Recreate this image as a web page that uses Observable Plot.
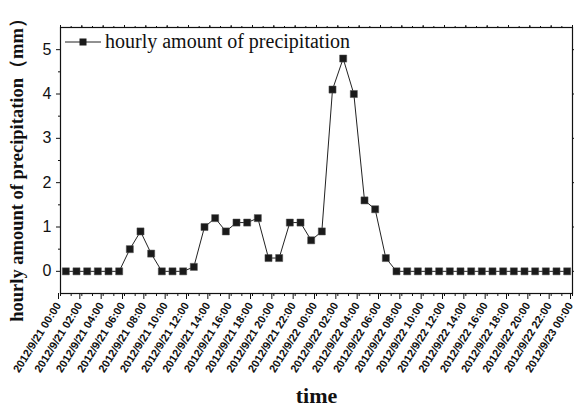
<!DOCTYPE html>
<html>
<head>
<meta charset="utf-8">
<script src="https://cdn.jsdelivr.net/npm/d3@7"></script>
<script src="https://cdn.jsdelivr.net/npm/@observablehq/plot@0.6"></script>
<style>
  html, body { margin: 0; padding: 0; background: #fff; }
  #chart { position: relative; width: 574px; height: 409px; }
  #legend {
    position: absolute; left: 64px; top: 30px;
    display: flex; align-items: center;
    font-family: "Liberation Serif", "Times New Roman", serif;
    font-size: 20px; color: #111; white-space: nowrap;
  }
  #legend svg { margin-right: 3px; }
</style>
</head>
<body>
<div id="chart">
  <div id="legend">
    <svg width="38" height="14"><line x1="1" y1="7" x2="37" y2="7" stroke="#222" stroke-width="1"/><rect x="15.5" y="3.5" width="7" height="7" fill="#1a1a1a"/></svg>
    <span>hourly amount of precipitation</span>
  </div>
</div>
<script>
// Hourly precipitation, Sept 21 00:00 – Sept 23 00:00, 2012 (one value per hour)
const startTime = Date.UTC(2012, 8, 21, 0, 0);
const endTime = Date.UTC(2012, 8, 23, 0, 0);
const precipitation = [
  0, 0, 0, 0, 0, 0, 0.5, 0.9, 0.4, 0, 0, 0,
  0.1, 1.0, 1.2, 0.9, 1.1, 1.1, 1.2, 0.3, 0.3, 1.1, 1.1, 0.7,
  0.9, 4.1, 4.8, 4.0, 1.6, 1.4, 0.3, 0, 0, 0, 0, 0,
  0, 0, 0, 0, 0, 0, 0, 0, 0, 0, 0, 0
];
const yMajorTicks = [0, 1, 2, 3, 4, 5];
const yMinorTicks = [0.5, 1.5, 2.5, 3.5, 4.5];
const yLabel = "hourly amount of precipitation（mm）";
const xLabel = "time";

// each hourly amount is plotted at the middle of its hour
const HOUR = 3600 * 1000;
const data = precipitation.map((v, i) => ({
  time: new Date(startTime + i * HOUR + HOUR / 2),
  value: v
}));

const majorX = d3.utcHour.every(2).range(new Date(startTime), new Date(endTime + 1));
const minorX = d3.utcHour.every(1).range(new Date(startTime), new Date(endTime + 1));
const fmt = d3.utcFormat("%Y/%-m/%-d %H:%M");

const sans = "'Liberation Sans', Arial, sans-serif";
const serif = "'Liberation Serif', 'Times New Roman', serif";

const chart = Plot.plot({
  width: 574,
  height: 409,
  marginLeft: 60,
  marginRight: 2,
  marginTop: 27,
  marginBottom: 116,
  style: { background: "white", color: "#111", overflow: "visible" },
  x: { type: "utc", domain: [new Date(startTime), new Date(endTime)] },
  y: { domain: [-0.5, 5.5] },
  marks: [
    // bottom axis: labelled ticks every two hours, small ticks every hour
    Plot.axisX({
      ticks: majorX, tickSize: 6, tickPadding: 4, tickRotate: -58,
      tickFormat: fmt, fontSize: 11, fontWeight: "bold", fontFamily: sans,
      dx: -2, label: null, stroke: "#111"
    }),
    Plot.axisX({ ticks: minorX, tickSize: 3, tickFormat: null, text: null, label: null, stroke: "#111" }),
    // top edge ticks
    Plot.axisX({ anchor: "top", ticks: majorX, tickSize: 3, text: null, label: null, stroke: "#111" }),
    Plot.axisX({ anchor: "top", ticks: minorX, tickSize: 2, text: null, label: null, stroke: "#111" }),
    // left axis
    Plot.axisY({
      ticks: yMajorTicks, tickSize: 4, tickPadding: 5, tickFormat: d3.format("d"),
      fontSize: 16, fontFamily: sans, label: null, stroke: "#111"
    }),
    Plot.axisY({ ticks: yMinorTicks, tickSize: 2, text: null, label: null, stroke: "#111" }),
    // right edge ticks
    Plot.axisY({ anchor: "right", ticks: yMajorTicks, tickSize: 3, text: null, label: null, stroke: "#111" }),
    Plot.frame({ stroke: "#111", strokeWidth: 1.2 }),
    Plot.lineY(data, { x: "time", y: "value", stroke: "#222", strokeWidth: 1 }),
    Plot.dot(data, {
      x: "time", y: "value", symbol: "square", r: 4,
      fill: "#1a1a1a", stroke: "#555", strokeWidth: 0.5
    }),
    // axis titles
    Plot.text([yLabel], {
      text: d => d, frameAnchor: "left", textAnchor: "middle", dx: -43, dy: 5, rotate: -90,
      fontSize: 18.5, fontWeight: "bold", fontFamily: serif, fill: "#111"
    }),
    Plot.text([xLabel], {
      text: d => d, frameAnchor: "bottom", textAnchor: "middle", dy: 109,
      fontSize: 22, fontWeight: "bold", fontFamily: serif, fill: "#111"
    })
  ]
});

document.getElementById("chart").prepend(chart);
chart.style.position = "absolute";
chart.style.left = "0";
chart.style.top = "0";
</script>
</body>
</html>
